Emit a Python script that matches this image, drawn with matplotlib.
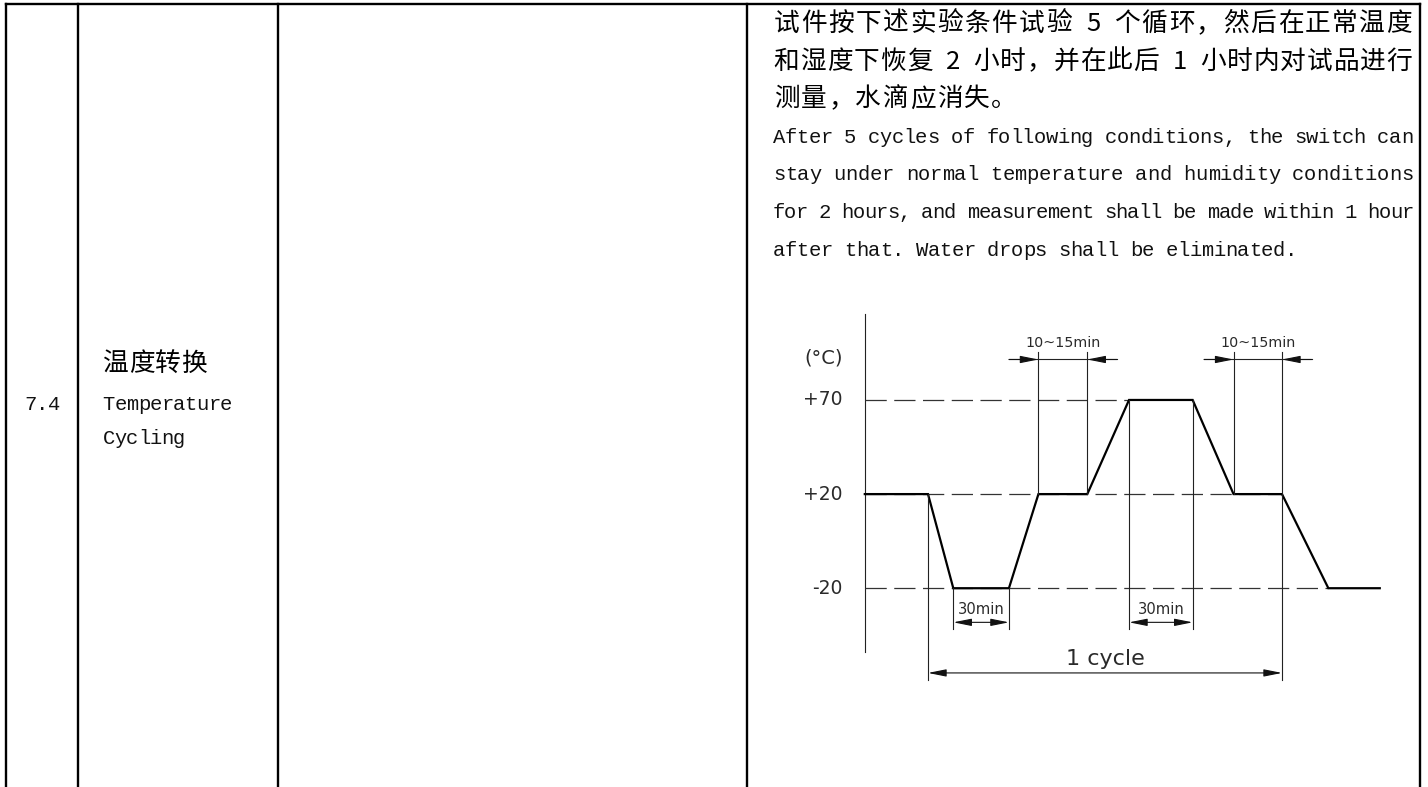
import matplotlib
matplotlib.use("Agg")
import matplotlib.pyplot as plt
import numpy as np

# temperature profile of one test cycle (schematic time units, degC)
TIME = [0, 15, 21, 34.2, 41.2, 52.8, 62.7, 77.8, 87.5, 99, 110, 122.2]
TEMP = [20, 20, -20, -20, 20, 20, 70, 70, 20, 20, -20, -20]
LEVELS = [70, 20, -20]
LEVEL_LABELS = ["+70", "+20", "-20"]
LEVEL_DASH_END = [62.7, 99, 110]

# table contents
ITEM_NO = "7.4"
ITEM_NAME_CN = "温度转换"
ITEM_NAME_EN = ["Temperature", "Cycling"]
DESC_CN = [
    "试件按下述实验条件试验 5 个循环，然后在正常温度",
    "和湿度下恢复 2 小时，并在此后 1 小时内对试品进行",
    "测量，水滴应消失。",
]
DESC_EN = [
    "After 5 cycles of following conditions, the switch can",
    "stay under normal temperature and humidity conditions",
    "for 2 hours, and measurement shall be made within 1 hour",
    "after that. Water drops shall be eliminated.",
]
DESC_JUSTIFY = [True, True, False, True, True, True, False]

W, H = 1428, 787
fig = plt.figure(figsize=(W / 100, H / 100), dpi=100)

# ---- table (pixel coordinates) ----
tab = fig.add_axes([0, 0, 1, 1])
tab.set_xlim(0, W)
tab.set_ylim(H, 0)
tab.axis("off")

col_x = [6, 78, 278, 747, 1420]
top_y = 4
for x in col_x:
    tab.plot([x, x], [top_y, H], color="black", lw=1.7, solid_capstyle="projecting")
tab.plot([col_x[0], col_x[-1]], [top_y, top_y], color="black", lw=1.7,
         solid_capstyle="projecting")

CN = dict(family=["Noto Sans CJK SC", "DejaVu Sans"], fontsize=18.5, color="black")
EN = dict(family=["Liberation Mono", "DejaVu Sans Mono"], fontsize=14.8,
          color="#111111")


def put_chars(ax, x0, y, s, half, style):
    # lay out characters on a fixed grid like a SimSun document
    x = x0
    for ch in s:
        w = half * (2 if ord(ch) > 0x2000 else 1)
        if not ch.isspace():
            ax.text(x + w / 2, y, ch, ha="center", va="center", **style)
        x += w


def units(s):
    return sum(2 if ord(ch) > 0x2000 else 1 for ch in s)


put_chars(tab, 24.5, 404, ITEM_NO, 11.7, EN)
put_chars(tab, 103, 364, ITEM_NAME_CN, 13.0, CN)
put_chars(tab, 103, 404, ITEM_NAME_EN[0], 11.7, EN)
put_chars(tab, 103, 439, ITEM_NAME_EN[1], 11.7, EN)

left, right = 773, 1413
line_y = 24
for i, s in enumerate(DESC_CN + DESC_EN):
    cn = i < len(DESC_CN)
    natural = 13.6 if cn else 11.9
    half = (right - left) / units(s) if DESC_JUSTIFY[i] else natural
    put_chars(tab, left, line_y, s, half, CN if cn else EN)
    line_y += 37.7

# ---- temperature cycle diagram ----
ax = fig.add_axes([840 / W, 1 - 700 / H, 560 / W, 400 / H])
ax.patch.set_alpha(0)


def fwd(v):
    v = np.asarray(v, dtype=float)
    return np.where(v < 20, (v + 20) / 40.0, 1 + (v - 20) / 50.0)


def inv(u):
    u = np.asarray(u, dtype=float)
    return np.where(u < 1, u * 40.0 - 20, 20 + (u - 1) * 50.0)


ax.set_yscale("function", functions=(fwd, inv))
ax.set_xlim(-5.885, 127.0)
ax.set_ylim(-67.5, 123.1)
ax.axis("off")

thin = dict(color="#222222", lw=0.8)
ax.plot([0, 0], [115.7, -47], **thin)

for lvl, lab, tend in zip(LEVELS, LEVEL_LABELS, LEVEL_DASH_END):
    ax.plot([0, tend], [lvl, lvl], color="#333333", lw=0.9, dashes=(17, 6))
    ax.text(-5.2, lvl, lab, ha="right", va="center", fontsize=13.5,
            family="DejaVu Sans", color="#2a2a2a")
ax.text(-5.2, 92.3, "(°C)", ha="right", va="center", fontsize=14,
        family="DejaVu Sans", color="#2a2a2a")

ax.plot(TIME, TEMP, color="black", lw=1.6, solid_joinstyle="miter")

EXT_TOP, ARR_TOP, TXT_TOP = 95.4, 91.5, 100
EXT_MID, ARR_MID, TXT_MID = -37.5, -34.5, -29
EXT_LOW, ARR_LOW, TXT_LOW = -59, -56, -50

# extension lines
ax.plot([TIME[1], TIME[1]], [TEMP[1], EXT_LOW], **thin)
ax.plot([TIME[9], TIME[9]], [EXT_TOP, EXT_LOW], **thin)
for i in (4, 5, 8):
    ax.plot([TIME[i], TIME[i]], [TEMP[i], EXT_TOP], **thin)
for i in (2, 3, 6, 7):
    ax.plot([TIME[i], TIME[i]], [TEMP[i], EXT_MID], **thin)

head = dict(lw=0.8, color="#111111", shrinkA=0, shrinkB=0)
arr1 = "-|>,head_length=1.1,head_width=0.22"
arr2 = "<|-|>,head_length=1.1,head_width=0.22"


def dim_inside(t0, t1, y):
    ax.annotate("", xy=(t1, y), xytext=(t0, y),
                arrowprops=dict(arrowstyle=arr2, mutation_scale=10, **head))


def dim_outside(t0, t1, y, ext=7.0):
    ax.plot([t0 - ext, t1 + ext], [y, y], **thin)
    ax.annotate("", xy=(t0, y), xytext=(t0 - ext, y),
                arrowprops=dict(arrowstyle=arr1, mutation_scale=10, **head))
    ax.annotate("", xy=(t1, y), xytext=(t1 + ext, y),
                arrowprops=dict(arrowstyle=arr1, mutation_scale=10, **head))


lab = dict(ha="center", va="center", family="DejaVu Sans", color="#2a2a2a")
for a, b in ((4, 5), (8, 9)):
    dim_outside(TIME[a], TIME[b], ARR_TOP)
    ax.text((TIME[a] + TIME[b]) / 2, TXT_TOP, "10~15min", fontsize=10.3, **lab)
for a, b in ((2, 3), (6, 7)):
    dim_inside(TIME[a], TIME[b], ARR_MID)
    ax.text((TIME[a] + TIME[b]) / 2, TXT_MID, "30min", fontsize=10.6, **lab)
dim_inside(TIME[1], TIME[9], ARR_LOW)
ax.text((TIME[1] + TIME[9]) / 2, TXT_LOW, "1 cycle", fontsize=16, **lab)

fig.savefig("out.png", dpi=100)
